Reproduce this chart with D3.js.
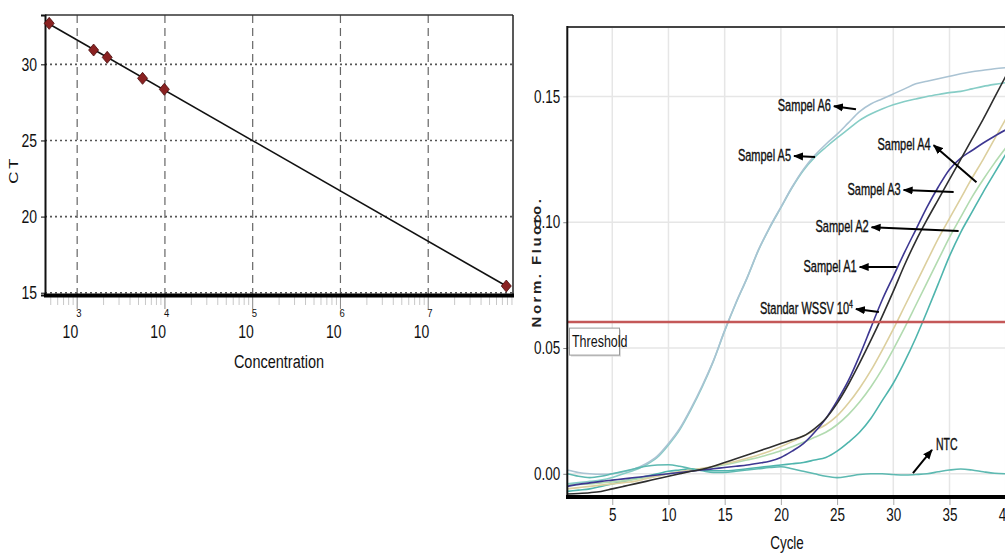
<!DOCTYPE html>
<meta charset="utf-8">
<style>
body { margin: 0; background: #fff; }
svg { display: block; font-family: "Liberation Sans Narrow", "Arial Narrow", sans-serif; }
</style>
<body>
<script src="https://cdn.jsdelivr.net/npm/d3@7"></script>
<script>

// ---- standard curve (left) ----
var concentration = [480, 1540, 2200, 5560, 9840, 7.76e7];
var ctValues = [32.69, 30.94, 30.46, 29.08, 28.36, 15.44];
var ctTicks = [15, 20, 25, 30];
var concTicks = [1e3, 1e4, 1e5, 1e6, 1e7];

// ---- amplification curves (right) ----
var cycles = d3.range(1, 41);
var cycleTicks = [5, 10, 15, 20, 25, 30, 35, 40];
var fluoTicks = [0, 0.05, 0.10, 0.15];
var threshold = 0.0603;

var sampelA6 = [0.0015, 0.0005, 0.0000, -0.0002, 0.0000, 0.0008, 0.0020, 0.0040, 0.0070, 0.0120,
  0.0180, 0.0260, 0.0350, 0.0450, 0.0570, 0.0680, 0.0780, 0.0890, 0.0980, 0.1060,
  0.1140, 0.1210, 0.1265, 0.1310, 0.1350, 0.1395, 0.1440, 0.1470, 0.1490, 0.1510,
  0.1530, 0.1550, 0.1560, 0.1570, 0.1580, 0.1590, 0.1598, 0.1604, 0.1610, 0.1614];
var sampelA5 = [-0.0040, -0.0035, -0.0030, -0.0025, -0.0015, 0.0000, 0.0015, 0.0035, 0.0065, 0.0115,
  0.0175, 0.0255, 0.0345, 0.0448, 0.0568, 0.0678, 0.0779, 0.0888, 0.0978, 0.1058,
  0.1138, 0.1206, 0.1258, 0.1298, 0.1335, 0.1370, 0.1405, 0.1430, 0.1450, 0.1467,
  0.1480, 0.1490, 0.1500, 0.1508, 0.1515, 0.1520, 0.1530, 0.1540, 0.1548, 0.1555];
var standar = [-0.0050, -0.0042, -0.0036, -0.0030, -0.0025, -0.0020, -0.0015, -0.0010, -0.0005, 0.0000,
  0.0005, 0.0010, 0.0015, 0.0020, 0.0025, 0.0030, 0.0035, 0.0042, 0.0050, 0.0065,
  0.0090, 0.0120, 0.0165, 0.0220, 0.0290, 0.0370, 0.0470, 0.0580, 0.0690, 0.0785,
  0.0880, 0.0970, 0.1060, 0.1140, 0.1210, 0.1255, 0.1285, 0.1315, 0.1342, 0.1367];
var sampelA1 = [-0.0080, -0.0078, -0.0075, -0.0070, -0.0060, -0.0050, -0.0040, -0.0030, -0.0020, -0.0010,
  0.0000, 0.0010, 0.0018, 0.0030, 0.0045, 0.0060, 0.0075, 0.0090, 0.0105, 0.0120,
  0.0135, 0.0150, 0.0180, 0.0220, 0.0280, 0.0355, 0.0440, 0.0530, 0.0625, 0.0725,
  0.0830, 0.0925, 0.1010, 0.1090, 0.1170, 0.1250, 0.1330, 0.1410, 0.1495, 0.1580];
var sampelA4 = [-0.0045, -0.0042, -0.0040, -0.0036, -0.0032, -0.0028, -0.0022, -0.0015, -0.0008, 0.0000,
  0.0008, 0.0015, 0.0020, 0.0028, 0.0036, 0.0045, 0.0055, 0.0065, 0.0078, 0.0092,
  0.0108, 0.0125, 0.0145, 0.0165, 0.0195, 0.0235, 0.0285, 0.0345, 0.0415, 0.0495,
  0.0580, 0.0670, 0.0760, 0.0850, 0.0940, 0.1020, 0.1100, 0.1170, 0.1235, 0.1295];
var sampelA3 = [-0.0060, -0.0055, -0.0050, -0.0045, -0.0040, -0.0035, -0.0030, -0.0020, -0.0010, 0.0000,
  0.0008, 0.0015, 0.0022, 0.0030, 0.0040, 0.0050, 0.0062, 0.0075, 0.0090, 0.0108,
  0.0128, 0.0150, 0.0172, 0.0195, 0.0230, 0.0280, 0.0340, 0.0410, 0.0490, 0.0575,
  0.0665, 0.0755, 0.0845, 0.0935, 0.1015, 0.1095, 0.1175, 0.1250, 0.1330, 0.1410];
var sampelA2 = [-0.0070, -0.0065, -0.0060, -0.0050, -0.0040, -0.0030, -0.0020, -0.0010, 0.0000, 0.0010,
  0.0015, 0.0020, 0.0015, 0.0012, 0.0012, 0.0015, 0.0020, 0.0025, 0.0030, 0.0035,
  0.0040, 0.0045, 0.0055, 0.0065, 0.0090, 0.0125, 0.0165, 0.0220, 0.0290, 0.0360,
  0.0445, 0.0540, 0.0645, 0.0755, 0.0865, 0.0960, 0.1040, 0.1120, 0.1195, 0.1270];
var ntc = [0.0000, -0.0010, -0.0015, -0.0010, 0.0000, 0.0010, 0.0020, 0.0030, 0.0035, 0.0036,
  0.0030, 0.0020, 0.0012, 0.0005, 0.0005, 0.0010, 0.0015, 0.0020, 0.0025, 0.0028,
  0.0020, 0.0010, 0.0000, -0.0010, -0.0015, -0.0010, -0.0003, 0.0000, 0.0000, -0.0003,
  -0.0005, -0.0003, 0.0000, 0.0008, 0.0015, 0.0019, 0.0015, 0.0008, 0.0002, 0.0000];

// drawing order and colours
var series = [
  {values: sampelA2, color: "#4fb5ad"},
  {values: sampelA4, color: "#b2dbb0"},
  {values: sampelA3, color: "#dccf9e"},
  {values: sampelA5, color: "#86cdc6"},
  {values: sampelA6, color: "#aac3d3"},
  {values: ntc, color: "#5db9b1"},
  {values: standar, color: "#3d3791"},
  {values: sampelA1, color: "#2e2e2e"}
];

// annotation arrows, in data units (cycle, fluoro): tip near text, end on the curve
var notes = [
  {text: "Sampel A6", tip: [24.72, 0.1461], end: [26.68, 0.1449]},
  {text: "Sampel A5", tip: [21.17, 0.1263], end: [23.04, 0.1259]},
  {text: "Sampel A4", tip: [33.59, 0.1306], end: [37.40, 0.1159]},
  {text: "Sampel A3", tip: [30.92, 0.1128], end: [35.37, 0.1120]},
  {text: "Sampel A2", tip: [28.07, 0.0980], end: [35.81, 0.0965]},
  {text: "Sampel A1", tip: [27.01, 0.0822], end: [30.30, 0.0822]},
  {text: "Standar WSSV 10", sup: "4", tip: [26.68, 0.0655], end: [28.72, 0.0643]},
  {text: "NTC", tip: [33.44, 0.0095], end: [31.75, 0.0003], right: true}
];

var svg = d3.select("body").append("svg")
  .attr("width", 1005)
  .attr("height", 559);

// text helper: the source picture is stretched vertically
function label(g, x, y, str, size, anchor, sy) {
  return g.append("text")
    .attr("transform", "translate(" + x + "," + y + ") scale(1," + (sy || 1.3) + ")")
    .attr("text-anchor", anchor || "middle")
    .style("font-size", size + "px")
    .attr("fill", "#111")
    .text(str);
}

// ================= LEFT: standard curve =================
var left = svg.append("g");
var x = d3.scaleLog().domain([430, 9.25e7]).range([45, 513]);
var y = d3.scaleLinear().domain([14.85, 33.24]).range([295, 15]);

// minor ticks under the axis
var minors = [];
for (var k = 2; k <= 7; k++) {
  for (var m = 1; m <= 9; m++) {
    var v = m * Math.pow(10, k);
    if (v > x.domain()[0] && v < x.domain()[1]) minors.push(v);
  }
}
left.selectAll(".minor").data(minors).enter().append("line")
  .attr("x1", d => x(d)).attr("x2", d => x(d))
  .attr("y1", 297).attr("y2", d => concTicks.indexOf(d) >= 0 ? 309 : 305)
  .attr("stroke", d => concTicks.indexOf(d) >= 0 ? "#888" : "#c8c8c8")
  .attr("stroke-width", 1);

// grid
left.selectAll(".hgrid").data(ctTicks).enter().append("line")
  .attr("x1", 45).attr("x2", 513)
  .attr("y1", d => y(d)).attr("y2", d => y(d))
  .attr("stroke", "#555").attr("stroke-width", 1.6)
  .attr("stroke-dasharray", "2,3");
left.selectAll(".vgrid").data(concTicks).enter().append("line")
  .attr("x1", d => x(d)).attr("x2", d => x(d))
  .attr("y1", 15).attr("y2", 295)
  .attr("stroke", "#666").attr("stroke-width", 1.2)
  .attr("stroke-dasharray", "8,5");

// frame
left.append("line").attr("x1", 45).attr("x2", 513).attr("y1", 15).attr("y2", 15)
  .attr("stroke", "#333").attr("stroke-width", 1.5);
left.append("line").attr("x1", 513).attr("x2", 513).attr("y1", 15).attr("y2", 297)
  .attr("stroke", "#222").attr("stroke-width", 1.5);

// y axis
var yAxisL = left.append("g")
  .attr("transform", "translate(45,0)")
  .call(d3.axisLeft(y).tickValues(ctTicks).tickSize(4).tickPadding(4));
yAxisL.select(".domain").attr("stroke", "#111").attr("stroke-width", 2);
yAxisL.selectAll("text").style("font-size", "14px").attr("fill", "#111")
  .attr("transform", "scale(1,1.3)");

// x axis (thick bottom line)
left.append("line").attr("x1", 44).attr("x2", 514).attr("y1", 295.5).attr("y2", 295.5)
  .attr("stroke", "#000").attr("stroke-width", 4);
concTicks.forEach(function(d) {
  label(left, x(d) + 1, 338, "10", 14, "end");
  label(left, x(d) - 1, 317, String(Math.round(Math.log10(d))), 9.5, "start", 1.2);
});

// fit line from the points
var logC = concentration.map(d => Math.log10(d));
var mx = d3.mean(logC), my = d3.mean(ctValues);
var slope = d3.sum(logC, (d, i) => (d - mx) * (ctValues[i] - my)) / d3.sum(logC, d => (d - mx) * (d - mx));
var icpt = my - slope * mx;
var cExt = d3.extent(concentration);
left.append("path")
  .datum(cExt)
  .attr("d", d3.line().x(d => x(d)).y(d => y(icpt + slope * Math.log10(d))))
  .attr("stroke", "#111").attr("stroke-width", 1.6).attr("fill", "none");

// points
left.selectAll(".pt").data(concentration).enter().append("path")
  .attr("transform", (d, i) => "translate(" + x(d) + "," + y(ctValues[i]) + ")")
  .attr("d", "M0,-6L5,0L0,6L-5,0Z")
  .attr("fill", "#8a2222").attr("stroke", "#4a0d0d").attr("stroke-width", 0.8);

left.append("text")
  .attr("transform", "translate(18,170) rotate(-90) scale(1.3,1)")
  .attr("text-anchor", "middle")
  .style("font-size", "13px")
  .style("letter-spacing", "2px")
  .attr("fill", "#111")
  .text("CT");
label(left, 279, 368, "Concentration", 14.5, "middle");

// ================= RIGHT: amplification plot =================
var right = svg.append("g");
var cx = d3.scaleLinear().domain([1, 40]).range([567.3, 1005.7]);
var cy = d3.scaleLinear().domain([-0.00922, 0.1776]).range([497, 27]);

right.append("clipPath").attr("id", "plotClip")
  .append("rect").attr("x", 567).attr("y", 27).attr("width", 440).attr("height", 470);

right.selectAll(".vg").data(cycleTicks).enter().append("line")
  .attr("x1", d => cx(d)).attr("x2", d => cx(d))
  .attr("y1", 27).attr("y2", 497)
  .attr("stroke", "#e6e6e6").attr("stroke-width", 1.5);
right.selectAll(".hg").data(fluoTicks).enter().append("line")
  .attr("x1", 567).attr("x2", 1005)
  .attr("y1", d => cy(d)).attr("y2", d => cy(d))
  .attr("stroke", "#e6e6e6").attr("stroke-width", 1.5);

right.append("line").attr("x1", 567).attr("x2", 1005).attr("y1", 27).attr("y2", 27)
  .attr("stroke", "#444").attr("stroke-width", 2);

var line = d3.line()
  .x((d, i) => cx(cycles[i]))
  .y(d => cy(d))
  .curve(d3.curveMonotoneX);

var plot = right.append("g").attr("clip-path", "url(#plotClip)");
plot.selectAll(".curve").data(series).enter().append("path")
  .attr("d", d => line(d.values))
  .attr("fill", "none")
  .attr("stroke", d => d.color)
  .attr("stroke-width", 1.6);

// threshold
plot.append("line")
  .attr("x1", 567).attr("x2", 1005)
  .attr("y1", cy(threshold)).attr("y2", cy(threshold))
  .attr("stroke", "#c45858").attr("stroke-width", 2.5);
var thY = cy(threshold) + 6;
right.append("rect").attr("x", 571).attr("y", thY + 1.5).attr("width", 50).attr("height", 27)
  .attr("fill", "#ddd");
right.append("rect").attr("x", 569.5).attr("y", thY).attr("width", 50).attr("height", 27)
  .attr("fill", "#fff").attr("stroke", "#999").attr("stroke-width", 1);
label(right, 572, thY + 19, "Threshold", 12.5, "start", 1.35);

// axes
var yAxisR = right.append("g")
  .attr("transform", "translate(567.3,0)")
  .call(d3.axisLeft(cy).tickValues(fluoTicks).tickSize(4).tickPadding(3).tickFormat(d3.format(".2f")));
yAxisR.select(".domain").remove();
yAxisR.selectAll("line").attr("stroke", "#888");
yAxisR.selectAll("text").style("font-size", "13.5px").attr("fill", "#111")
  .attr("transform", "scale(1,1.3)");
right.append("line").attr("x1", 567.3).attr("x2", 567.3).attr("y1", 26).attr("y2", 497)
  .attr("stroke", "#111").attr("stroke-width", 2);

var xAxisR = right.append("g")
  .attr("transform", "translate(0,497)")
  .call(d3.axisBottom(cx).tickValues(cycleTicks).tickSize(8));
xAxisR.select(".domain").remove();
xAxisR.selectAll("line").attr("stroke", "#aaa");
xAxisR.selectAll("text").style("font-size", "13.5px").attr("fill", "#111")
  .attr("y", 0).attr("dy", 0)
  .attr("transform", "translate(0,24) scale(1,1.3)");
right.append("line").attr("x1", 566).attr("x2", 1005).attr("y1", 497).attr("y2", 497)
  .attr("stroke", "#000").attr("stroke-width", 4);

label(right, 787, 549, "Cycle", 13.5, "middle");
right.append("text")
  .attr("transform", "translate(541,262) rotate(-90) scale(1.25,1)")
  .attr("text-anchor", "middle")
  .style("font-family", "'Liberation Sans', Arial, sans-serif")
  .style("font-weight", "bold")
  .style("font-size", "12px")
  .style("letter-spacing", "2px")
  .attr("fill", "#222")
  .text("Norm. Fluoro.");

// annotations
var defs = svg.append("defs");
defs.append("marker").attr("id", "arr")
  .attr("viewBox", "0 0 10 8").attr("refX", 9).attr("refY", 4)
  .attr("markerUnits", "userSpaceOnUse")
  .attr("markerWidth", 10).attr("markerHeight", 9)
  .attr("orient", "auto")
  .append("path").attr("d", "M0,0L10,4L0,8Z").attr("fill", "#000");

notes.forEach(function(n) {
  var tx = cx(n.tip[0]), ty = cy(n.tip[1]);
  right.append("line")
    .attr("x1", cx(n.end[0])).attr("y1", cy(n.end[1]))
    .attr("x2", tx).attr("y2", ty)
    .attr("stroke", "#000").attr("stroke-width", 2)
    .attr("marker-end", "url(#arr)");
  var t;
  if (n.right) {
    t = label(right, tx + 4, ty + 0, n.text, 10.5, "start", 1.55);
  } else {
    t = label(right, tx - 3, ty + 5, n.text, 11, "end", 1.45);
  }
  t.attr("stroke", "#111").attr("stroke-width", 0.25);
  if (n.sup) {
    t.append("tspan").attr("dy", -4).style("font-size", "7px").text(n.sup);
  }
});

</script>
